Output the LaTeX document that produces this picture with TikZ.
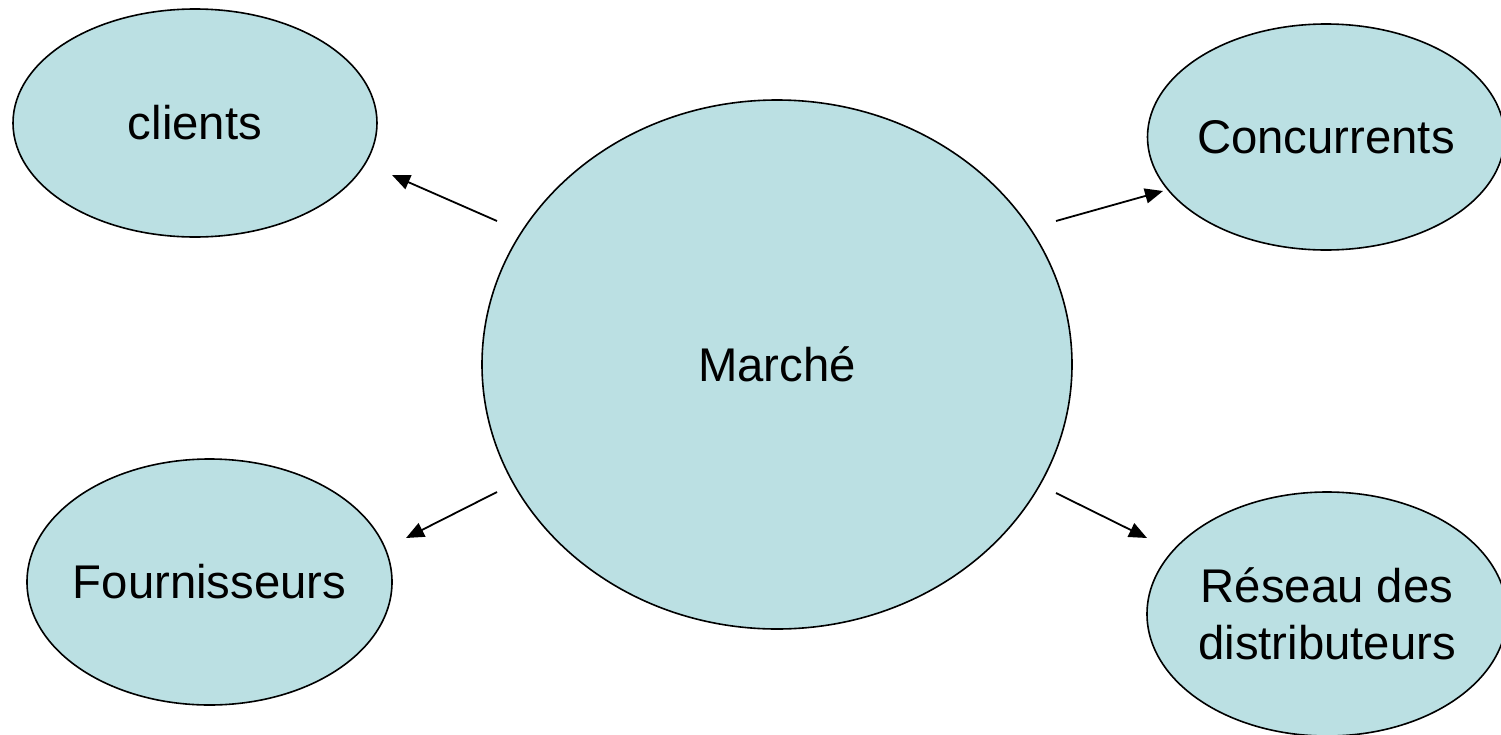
\documentclass[tikz,border=0pt]{standalone}
\usepackage{fontspec}
\setmainfont{Liberation Sans}
\usetikzlibrary{shapes.geometric,arrows.meta}

\definecolor{bubble}{RGB}{187,224,227}

\tikzset{
  % negative inner sep lets the minimum size alone fix each ellipse
  bubble/.style={ellipse, draw=black, line width=1.6pt, fill=bubble,
    inner sep=-60pt, align=center, text=black,
    font=\fontsize{47.3}{57}\selectfont},
  link/.style={line width=1.8pt, -{Triangle[length=18pt,width=15pt]}}
}

\begin{document}
\begin{tikzpicture}[x=1pt, y=-1pt]
  % canvas
  \fill[white] (0,0) rectangle (1501,734);
  \useasboundingbox (0,0) rectangle (1501,734);

  % central market and the four actors around it
  \node[bubble, minimum width=590pt, minimum height=529pt] (mkt) at (777,364.5) {Marché};
  \node[bubble, minimum width=364pt, minimum height=228pt] (cli) at (195,123) {clients};
  \node[bubble, minimum width=357pt, minimum height=226pt] (con) at (1326,137) {Concurrents};
  \node[bubble, minimum width=365pt, minimum height=246pt] (fou) at (209.5,582) {Fournisseurs};
  \node[bubble, minimum width=360pt, minimum height=244pt] (res) at (1327,614) {Réseau des\\distributeurs};

  % arrow ends, set a little apart from the outlines
  \coordinate (mkt-cli) at (497,221);
  \coordinate (cli-in)  at (392,175);
  \coordinate (mkt-con) at (1056,221);
  \coordinate (con-in)  at (1163,191);
  \coordinate (mkt-fou) at (497,492);
  \coordinate (fou-in)  at (406,538);
  \coordinate (mkt-res) at (1056,493);
  \coordinate (res-in)  at (1147,538);

  \draw[link] (mkt-cli) -- (cli-in);
  \draw[link] (mkt-con) -- (con-in);
  \draw[link] (mkt-fou) -- (fou-in);
  \draw[link] (mkt-res) -- (res-in);
\end{tikzpicture}
\end{document}
